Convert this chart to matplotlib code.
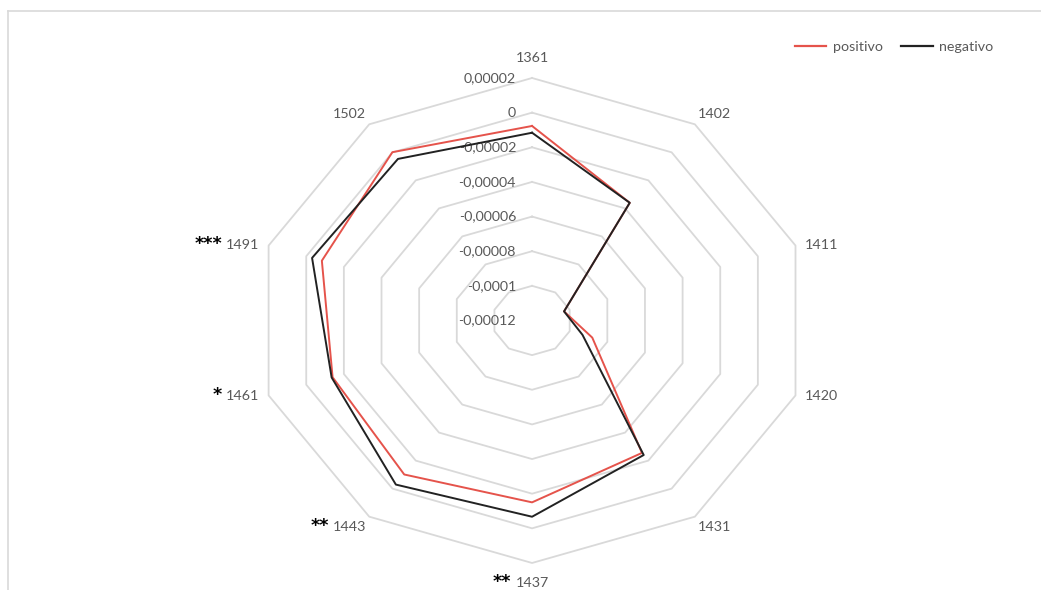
import numpy as np
import matplotlib
matplotlib.use("Agg")
import matplotlib.pyplot as plt
from matplotlib.lines import Line2D

plt.rcParams['font.family'] = ['Lato', 'DejaVu Sans']

categories = ['1361', '1402', '1411', '1420', '1431', '1437', '1443', '1461', '1491', '1502']
stars = ['', '', '', '', '', '**', '**', '*', '***', '']
positivo = [-0.0000077, -0.000036, -0.000103, -0.000088, -0.0000255,
            -0.000015, -0.0000101, -0.000014, -0.0000083, 0.0000001]
negativo = [-0.0000116, -0.000036, -0.000103, -0.0000932, -0.000024,
            -0.0000067, -0.0000029, -0.0000135, -0.0000031, -0.0000047]
ring_values = [-0.00012, -0.0001, -0.00008, -0.00006, -0.00004, -0.00002, 0, 0.00002]
ring_labels = ['-0,00012', '-0,0001', '-0,00008', '-0,00006', '-0,00004', '-0,00002', '0', '0,00002']

RED = '#E5534B'
BLACK = '#222222'
GRID = '#D9D9D9'
TXT = '#595959'
FS = 10.3

fig = plt.figure(figsize=(10.41, 5.90), dpi=100)

# chart frame (top and left edges only visible)
fig.add_artist(Line2D([7.5 / 1041, 1], [1 - 10.7 / 590] * 2, color=GRID, lw=1.2))
fig.add_artist(Line2D([7.5 / 1041] * 2, [0, 1 - 10.7 / 590], color=GRID, lw=1.2))

ax = fig.add_axes([0.245, 0.0458, 0.5322, 0.822], projection='polar')
ax.set_aspect('auto')
ax.set_theta_zero_location('N')
ax.set_theta_direction(-1)
ax.set_ylim(ring_values[0], ring_values[-1])
ax.grid(False)
ax.spines['polar'].set_visible(False)
ax.set_xticks([])
ax.set_yticks([])
ax.patch.set_alpha(0)

n = len(categories)
theta = np.linspace(0, 2 * np.pi, n, endpoint=False)
theta_c = np.append(theta, theta[0])

# polygonal rings
for v in ring_values[1:]:
    ax.plot(theta_c, [v] * (n + 1), color=GRID, lw=1.3, zorder=1, clip_on=False)

# value labels along the top spoke
for v, lab in zip(ring_values, ring_labels):
    ax.annotate(lab, xy=(0, v), xytext=(-16, 0), textcoords='offset pixels',
                ha='right', va='center', fontsize=FS, color=TXT, annotation_clip=False)

ax.plot(theta_c, positivo + positivo[:1], color=RED, lw=1.4, zorder=3, clip_on=False)
ax.plot(theta_c, negativo + negativo[:1], color=BLACK, lw=1.4, zorder=3, clip_on=False)

# category labels outside the outer ring
for t, cat, st in zip(theta, categories, stars):
    s, c = np.sin(t), np.cos(t)
    if abs(s) < 1e-6:
        ha, ox = 'center', 0
    else:
        ha = 'left' if s > 0 else 'right'
        ox = np.sign(s) * (17 * abs(s) - 7)
    oy = 20 * c ** 3
    lbl = ax.annotate(cat, xy=(t, ring_values[-1]), xytext=(ox, oy), textcoords='offset pixels',
                      ha=ha, va='center', fontsize=FS, color=TXT, annotation_clip=False)
    if st:
        ax.annotate(st, xy=(0, 0.5), xycoords=lbl, xytext=(-4, 1), textcoords='offset pixels',
                    ha='right', va='center', fontsize=12.5, fontweight='bold',
                    family='DejaVu Sans', color='black')

handles = [Line2D([], [], color=RED, lw=1.6), Line2D([], [], color=BLACK, lw=1.6)]
fig.legend(handles, ['positivo', 'negativo'], loc='center', bbox_to_anchor=(894 / 1041, 1 - 47 / 590),
           ncol=2, frameon=False, fontsize=FS, labelcolor=TXT, handlelength=2.2,
           handletextpad=0.45, columnspacing=1.3)

fig.savefig('out.png', dpi=100, facecolor='white')
